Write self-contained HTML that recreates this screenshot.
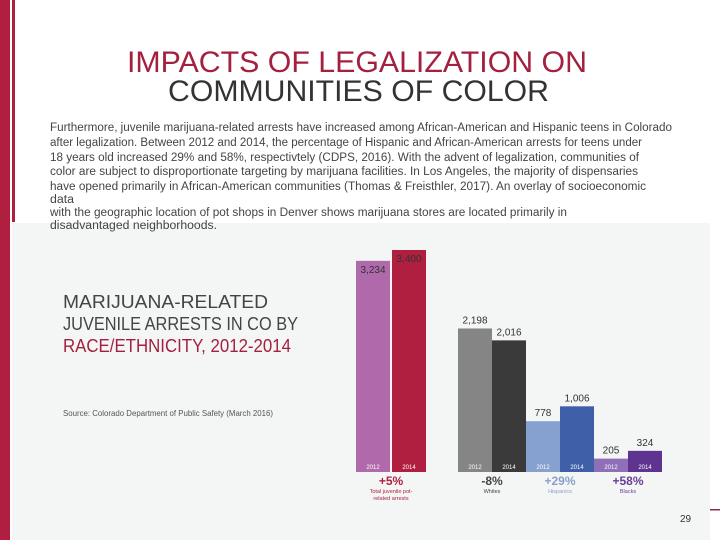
<!DOCTYPE html>
<html><head><meta charset="utf-8"><style>
html,body{margin:0;padding:0;background:#fff;}
svg{display:block;font-family:"Liberation Sans",sans-serif;}
</style></head><body>
<svg id="s" width="720" height="540" viewBox="0 0 720 540">
<rect x="12" y="223" width="698" height="317" fill="#f4f5f5"/>
<rect x="0" y="0" width="10" height="540" fill="#b01f3f"/>
<rect x="12" y="0" width="3" height="222" fill="#b01f3f"/>
<rect x="710" y="509" width="10" height="1.5" fill="#8a3040"/>
<text x="127" y="72" font-size="30" fill="#a3213f" textLength="460" lengthAdjust="spacingAndGlyphs">IMPACTS OF LEGALIZATION ON</text>
<text x="168" y="101" font-size="30" fill="#333" textLength="381" lengthAdjust="spacingAndGlyphs">COMMUNITIES OF COLOR</text>
<g font-size="11.5" fill="#444">
<text x="50" y="131" textLength="622" lengthAdjust="spacingAndGlyphs">Furthermore, juvenile marijuana-related arrests have increased among African-American and Hispanic teens in Colorado</text>
<text x="50" y="146" textLength="592" lengthAdjust="spacingAndGlyphs">after legalization. Between 2012 and 2014, the percentage of Hispanic and African-American arrests for teens under</text>
<text x="50" y="161" textLength="589" lengthAdjust="spacingAndGlyphs">18 years old increased 29% and 58%, respectivtely (CDPS, 2016). With the advent of legalization, communities of</text>
<text x="50" y="175" textLength="588" lengthAdjust="spacingAndGlyphs">color are subject to disproportionate targeting by marijuana facilities. In Los Angeles, the majority of dispensaries</text>
<text x="50" y="190" textLength="596" lengthAdjust="spacingAndGlyphs">have  opened primarily in African-American communities (Thomas &amp; Freisthler, 2017). An overlay of socioeconomic</text>
<text x="50" y="203" textLength="24" lengthAdjust="spacingAndGlyphs">data</text>
<text x="50" y="216" textLength="517" lengthAdjust="spacingAndGlyphs">with the geographic location of pot shops in Denver shows marijuana stores are located primarily in</text>
<text x="50" y="229" textLength="167" lengthAdjust="spacingAndGlyphs">disadvantaged  neighborhoods.</text>
</g>
<g font-size="18">
<text x="63" y="308" fill="#444" textLength="205" lengthAdjust="spacingAndGlyphs">MARIJUANA-RELATED</text>
<text x="63" y="330" fill="#444" textLength="235" lengthAdjust="spacingAndGlyphs">JUVENILE ARRESTS IN CO BY</text>
<text x="63" y="352" fill="#a3213f" textLength="228" lengthAdjust="spacingAndGlyphs">RACE/ETHNICITY, 2012-2014</text>
</g>
<text x="63" y="416" font-size="8" fill="#555" textLength="210" lengthAdjust="spacingAndGlyphs">Source: Colorado Department of Public Safety (March 2016)</text>
<text x="680" y="522" font-size="10" fill="#333">29</text>
<g id="chart"></g>
</svg>
<script>
const groups = ["Total juvenile pot-related arrests", "Whites", "Hispanics", "Blacks"];
const changes = ["+5%", "-8%", "+29%", "+58%"];
const years = ["2012", "2014"];
const values2012 = [3234, 2198, 778, 205];
const values2014 = [3400, 2016, 1006, 324];
const valueLabels2012 = ["3,234", "2,198", "778", "205"];
const valueLabels2014 = ["3,400", "2,016", "1,006", "324"];

const NS = "http://www.w3.org/2000/svg";
const g = document.getElementById("chart");
const baseY = 472, plotH = 222, maxV = 3400;
const yScale = v => baseY - v / maxV * plotH;
const groupX = i => i === 0 ? 356 : 458 + (i - 1) * 68;
const barW = 34;
const cols2012 = ["#b06aac", "#858585", "#86a0d0", "#8e6fb8"];
const cols2014 = ["#b01f3f", "#3a3a3a", "#3f5fa8", "#5e3490"];
const changeCols = ["#b01f3f", "#444", "#8aa0c8", "#6a3d96"];
function mk(tag, attrs, text) {
  const e = document.createElementNS(NS, tag);
  for (const k in attrs) e.setAttribute(k, attrs[k]);
  if (text !== undefined) e.textContent = text;
  g.appendChild(e);
  return e;
}
groups.forEach((grp, i) => {
  const x0 = groupX(i) + (i === 0 ? 0 : 0);
  const xs = [x0, x0 + barW + (i === 0 ? 2 : 0)];
  const vals = [values2012[i], values2014[i]];
  const labs = [valueLabels2012[i], valueLabels2014[i]];
  const cols = [cols2012[i], cols2014[i]];
  vals.forEach((v, j) => {
    const top = yScale(v);
    const r = mk("rect", {x: xs[j], y: top, width: barW, height: baseY - top, fill: cols[j]});
    
    
    const inside = i === 0;
    const t = mk("text", {x: xs[j] + barW / 2, y: inside ? top + 12 : top - 5, "font-size": 10, fill: "#333", "text-anchor": "middle"}, labs[j]);
    
    
    const yt = mk("text", {x: xs[j] + barW / 2, y: baseY - 3, "font-size": 6, fill: "#fff", "text-anchor": "middle"}, years[j]);
    
    
  });
  const cx = i === 0 ? 391 : x0 + barW;
  const c = mk("text", {x: cx, y: 485, "font-size": 12, "font-weight": "bold", fill: changeCols[i], "text-anchor": "middle"}, changes[i]);
  
  
  if (i === 0) {
    const a = mk("text", {x: cx, y: 493, "font-size": 5.5, fill: changeCols[i], "text-anchor": "middle"}, "Total juvenile pot-");
    
    
    const b = mk("text", {x: cx, y: 500, "font-size": 5.5, fill: changeCols[i], "text-anchor": "middle"}, "related arrests");
    
    
  } else {
    const a = mk("text", {x: cx, y: 493, "font-size": 5.5, fill: changeCols[i], "text-anchor": "middle"}, grp);
    
    
  }
});
</script>
</body></html>
